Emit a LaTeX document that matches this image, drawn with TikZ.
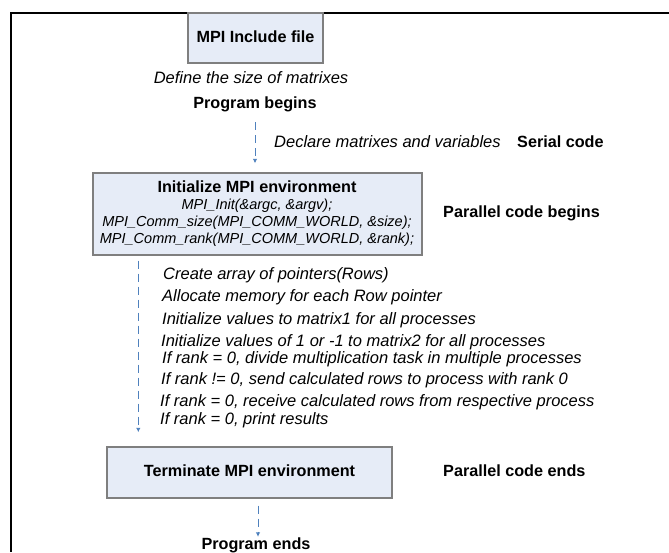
\documentclass[tikz,border=0pt]{standalone}
\usepackage{fontspec}
\setmainfont{Liberation Sans}
\usetikzlibrary{arrows.meta}
\definecolor{boxfill}{HTML}{E6ECF7}
\definecolor{boxline}{HTML}{7F7F7F}
\definecolor{flowblue}{HTML}{4F81BD}
\begin{document}
\begin{tikzpicture}[x=1pt,y=-1pt,
  procbox/.style={draw=boxline, line width=1.4pt, fill=boxfill, inner sep=0pt},
  lbl/.style={inner sep=0pt, text height=11.5pt, text depth=3.4pt, font=\fontsize{16}{19}\selectfont},
  blbl/.style={lbl, font=\fontsize{16.2}{19}\selectfont\bfseries},
  ilbl/.style={lbl, font=\fontsize{16.5}{19}\selectfont\itshape},
  codeline/.style={inner sep=0pt, font=\fontsize{14.5}{17}\selectfont\itshape},
  flow/.style={draw=flowblue, line width=1pt, dash pattern=on 8pt off 5pt,
    -{Latex[length=4.5pt,width=4.5pt]}}]
\useasboundingbox (0,0) rectangle (669,552);
% frame
\draw[line width=2pt] (669,13) -- (11,13) -- (11,552);

% MPI include file
\node[procbox, blbl, minimum width=135pt, minimum height=50pt] (inc) at (255.5,38) {MPI Include file};
\node[ilbl] (def) at (251,79) {Define the size of matrixes};
\node[blbl] (pb) at (255,104) {Program begins};
\node[ilbl, anchor=west] (decl) at (274,143) {Declare matrixes and variables};
\node[blbl, anchor=west] (serial) at (517,143) {Serial code};

% initialize box
\node[procbox, minimum width=329pt, minimum height=82pt] (init) at (257.5,214) {};
\node[blbl] (initT) at (257,188) {Initialize MPI environment};
\node[codeline] (c1) at (257,206) {MPI\_Init(\&argc, \&argv);};
\node[codeline] (c2) at (257,223) {MPI\_Comm\_size(MPI\_COMM\_WORLD, \&size);};
\node[codeline] (c3) at (257,240) {MPI\_Comm\_rank(MPI\_COMM\_WORLD, \&rank);};
\node[blbl, anchor=west] (parb) at (443,213) {Parallel code begins};

% steps
\node[ilbl, anchor=west] (s1) at (163,275) {Create array of pointers(Rows)};
\node[ilbl, anchor=west] (s2) at (162,297) {Allocate memory for each Row pointer};
\node[ilbl, anchor=west] (s3) at (162,320) {Initialize values to matrix1 for all processes};
\node[ilbl, anchor=west] (s4) at (161,342) {Initialize values of 1 or -1 to matrix2 for all processes};
\node[ilbl, anchor=west] (s5) at (162,359) {If rank = 0, divide multiplication task in multiple processes};
\node[ilbl, anchor=west] (s6) at (161,380) {If rank != 0, send calculated rows to process with rank 0};
\node[ilbl, anchor=west] (s7) at (160,402) {If rank = 0, receive calculated rows from respective process};
\node[ilbl, anchor=west] (s8) at (160,420) {If rank = 0, print results};

% terminate box
\node[procbox, blbl, minimum width=285pt, minimum height=51pt] (ter) at (249.5,472.5) {Terminate MPI environment};
\node[blbl, anchor=west] (pare) at (443,472) {Parallel code ends};
\node[blbl] (pe) at (256,545) {Program ends};

% connectors
\draw[flow, shorten <=10.5pt, shorten >=9pt] (pb.south) -- (pb.south |- init.north);
\draw[flow, shorten <=5pt, shorten >=14pt] ([xshift=46pt]init.south west) -- ([xshift=32pt]ter.north west);
\draw[flow, shorten <=7pt, shorten >=0.5pt] ([xshift=8.5pt]ter.south) -- ([xshift=8.5pt]ter.south |- pe.north);
\end{tikzpicture}
\end{document}
